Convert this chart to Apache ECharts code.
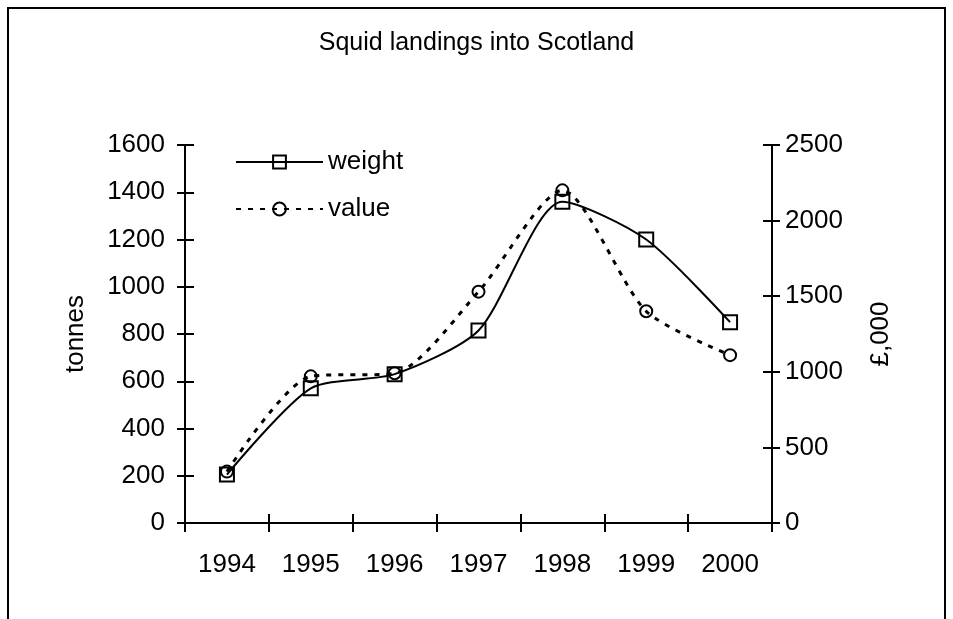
<!DOCTYPE html>
<html>
<head>
<meta charset="utf-8">
<script src="https://cdn.jsdelivr.net/npm/echarts@6/dist/echarts.min.js"></script>
<style>
  html, body { margin: 0; padding: 0; background: #fff; }
  #chart { width: 953px; height: 619px; }
</style>
</head>
<body>
<div id="chart"></div>
<script>
// data
const years = ['1994', '1995', '1996', '1997', '1998', '1999', '2000'];
const weight = [205, 570, 630, 815, 1360, 1200, 850];   // tonnes
const value = [340, 970, 990, 1530, 2200, 1400, 1110];  // £,000

const font = 'Liberation Sans, Arial, sans-serif';
const chart = echarts.init(document.getElementById('chart'));

const labelStyle = { color: '#000', fontSize: 26, fontFamily: font };
const plain = (v) => String(v);

// a second copy of each axis draws the inner half of the crossing ticks
const innerTicks = (extra) => Object.assign({
    axisLine: { show: false },
    axisLabel: { show: false },
    splitLine: { show: false },
    axisTick: { show: true, inside: true, length: 9, lineStyle: { color: '#000', width: 2 } }
}, extra);

const option = {
    animation: false,
    backgroundColor: '#fff',
    title: {
        text: 'Squid landings into Scotland',
        left: 'center',
        top: 26,
        textStyle: { color: '#000', fontSize: 25, fontWeight: 'normal', fontFamily: font }
    },
    legend: {
        orient: 'vertical',
        left: 230,
        top: 144,
        itemWidth: 87,
        itemHeight: 16,
        itemGap: 21,
        textStyle: labelStyle,
        data: ['weight', 'value']
    },
    grid: { left: 185, right: 181, top: 145, bottom: 96 },
    xAxis: [
        {
            type: 'category',
            data: years,
            boundaryGap: true,
            axisLine: { lineStyle: { color: '#000', width: 2 } },
            axisTick: { show: true, inside: false, length: 9, lineStyle: { color: '#000', width: 2 } },
            axisLabel: Object.assign({ margin: 29 }, labelStyle)
        },
        innerTicks({ type: 'category', data: years, position: 'bottom', boundaryGap: true })
    ],
    yAxis: [
        {
            type: 'value',
            name: 'tonnes',
            nameLocation: 'middle',
            nameRotate: 90,
            nameGap: 96,
            nameTextStyle: labelStyle,
            min: 0,
            max: 1600,
            interval: 200,
            position: 'left',
            axisLine: { show: true, lineStyle: { color: '#000', width: 2 } },
            axisTick: { show: true, length: 8, lineStyle: { color: '#000', width: 2 } },
            axisLabel: Object.assign({ margin: 20, formatter: plain }, labelStyle),
            splitLine: { show: false }
        },
        {
            type: 'value',
            name: '£,000',
            nameLocation: 'middle',
            nameRotate: 90,
            nameGap: 96,
            nameTextStyle: labelStyle,
            min: 0,
            max: 2500,
            interval: 500,
            position: 'right',
            axisLine: { show: true, lineStyle: { color: '#000', width: 2 } },
            axisTick: { show: true, length: 8, lineStyle: { color: '#000', width: 2 } },
            axisLabel: Object.assign({ margin: 13, formatter: plain }, labelStyle),
            splitLine: { show: false }
        },
        innerTicks({ type: 'value', position: 'left', min: 0, max: 1600, interval: 200 }),
        innerTicks({ type: 'value', position: 'right', min: 0, max: 2500, interval: 500 })
    ],
    series: [
        {
            name: 'weight',
            type: 'line',
            data: weight,
            yAxisIndex: 0,
            smooth: 0.25,
            symbol: 'rect',
            symbolSize: 14,
            lineStyle: { color: '#000', width: 2 },
            itemStyle: { color: 'transparent', borderColor: '#000', borderWidth: 2 },
            z: 3
        },
        {
            name: 'value',
            type: 'line',
            data: value,
            yAxisIndex: 1,
            smooth: 0.25,
            symbol: 'circle',
            symbolSize: 12,
            lineStyle: { color: '#000', width: 3, type: [5, 7] },
            itemStyle: { color: 'transparent', borderColor: '#000', borderWidth: 2 },
            z: 2
        }
    ],
    graphic: [
        {
            type: 'rect',
            shape: { x: 8, y: 8, width: 937, height: 700 },
            style: { fill: 'none', stroke: '#000', lineWidth: 2 },
            silent: true
        }
    ]
};

chart.setOption(option);
</script>
</body>
</html>
